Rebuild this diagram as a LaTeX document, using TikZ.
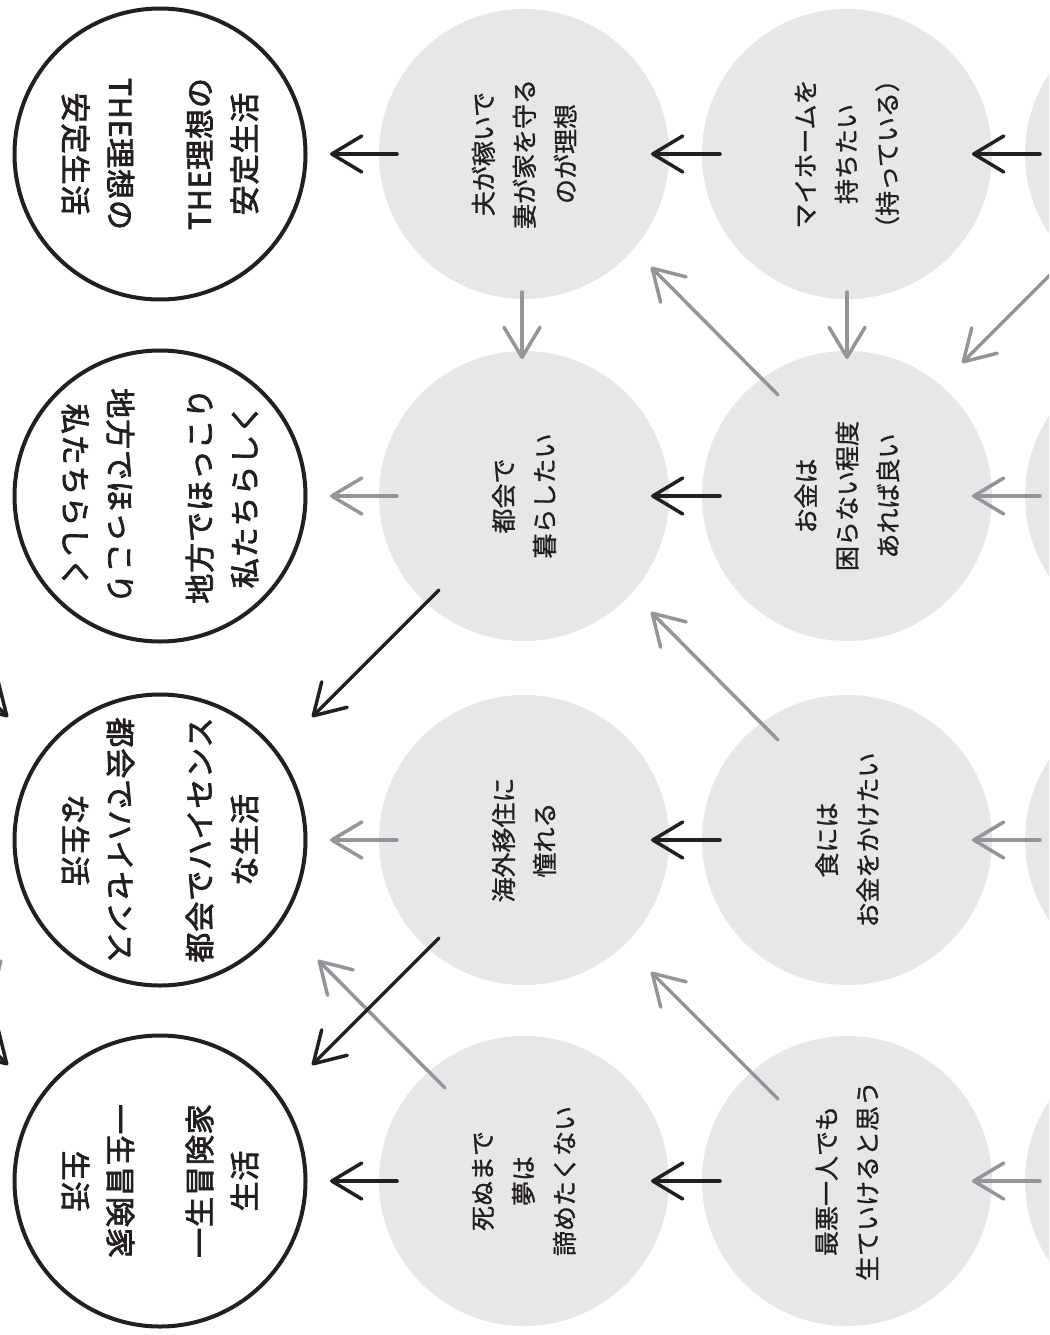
\documentclass[tikz,border=0pt]{standalone}
\usepackage{fontspec}
\newfontfamily\jp[FakeBold=1.0]{Noto Sans CJK JP}
\newfontfamily\jpb[FakeBold=2.5,LetterSpace=3]{Noto Sans CJK JP}
\usetikzlibrary{arrows.meta,calc}
\definecolor{ink}{HTML}{231F20}
\definecolor{circ}{HTML}{E6E7E8}
\definecolor{agray}{HTML}{939598}
\tikzset{
  wcirc/.style={circle, draw=ink, line width=4pt, fill=white, minimum size=291pt, inner sep=0pt, outer sep=0pt},
  gcirc/.style={circle, fill=circ, minimum size=290pt, inner sep=0pt, outer sep=0pt},
  wtext/.style={align=center, text=ink, inner sep=0pt, font=\jpb\fontsize{30pt}{45pt}\selectfont},
  gtext/.style={align=center, text=ink, inner sep=0pt, font=\jp\fontsize{25pt}{41pt}\selectfont},
  barb/.style={line width=3.5pt, line cap=round, -{Straight Barb[length=30pt,width=36pt,round]}},
  blk/.style={barb, draw=ink},
  gry/.style={barb, draw=agray},
}
\begin{document}
\begin{tikzpicture}[x=1pt,y=-1pt]
\useasboundingbox (0,0) rectangle (1049,1335);
\clip (0,0) rectangle (1049,1335);
\fill[white] (0,0) rectangle (1049,1335);
% mirrored ghost sources (off canvas)
\coordinate (M12) at (-204,496);
\coordinate (M13) at (-204,840);
\coordinate (M14) at (-204,1181);
% white circles
\node[wcirc] (W1) at (160,154) {};
\node[wcirc] (W2) at (160,496) {};
\node[wcirc] (W3) at (160,840) {};
\node[wcirc] (W4) at (160,1181) {};
% gray circles
\foreach \c/\x in {1/524,2/847,3/1170}{
  \node[gcirc] (G\c1) at (\x,154) {};
  \node[gcirc] (G\c2) at (\x,496) {};
  \node[gcirc] (G\c3) at (\x,840) {};
  \node[gcirc] (G\c4) at (\x,1181) {};
}
% white circle texts (both orientations)
\node[wtext, rotate=90] (W1a) at ($(W1)+(62,0)$) {THE理想の\\安定生活};
\node[wtext, rotate=-90] (W1b) at ($(W1)+(-62,0)$) {THE理想の\\安定生活};
\node[wtext, rotate=90] (W2a) at ($(W2)+(62,0)$) {地方でほっこり\\私たちらしく};
\node[wtext, rotate=-90] (W2b) at ($(W2)+(-62,0)$) {地方でほっこり\\私たちらしく};
\node[wtext, rotate=90] (W3a) at ($(W3)+(62,0)$) {都会でハイセンス\\な生活};
\node[wtext, rotate=-90] (W3b) at ($(W3)+(-62,0)$) {都会でハイセンス\\な生活};
\node[wtext, rotate=90] (W4a) at ($(W4)+(62,0)$) {一生冒険家\\生活};
\node[wtext, rotate=-90] (W4b) at ($(W4)+(-62,0)$) {一生冒険家\\生活};
% gray circle texts
\node[gtext, rotate=90] (T11) at (G11) {夫が稼いで\\妻が家を守る\\のが理想};
\node[gtext, rotate=90] (T12) at (G12) {都会で\\暮らしたい};
\node[gtext, rotate=90] (T13) at (G13) {海外移住に\\憧れる};
\node[gtext, rotate=90] (T14) at (G14) {死ぬまで\\夢は\\諦めたくない};
\node[gtext, rotate=90] (T21) at (G21) {マイホームを\\持ちたい\\（持っている）};
\node[gtext, rotate=90] (T22) at (G22) {お金は\\困らない程度\\あれば良い};
\node[gtext, rotate=90] (T23) at (G23) {食には\\お金をかけたい};
\node[gtext, rotate=90] (T24) at (G24) {最悪一人でも\\生ていけると思う};
% horizontal arrows: column 1 -> white
\draw[blk] ($(G11)+(-127,0)$) -- ($(W1)+(170,0)$);
\draw[gry] ($(G12)+(-127,0)$) -- ($(W2)+(170,0)$);
\draw[gry] ($(G13)+(-127,0)$) -- ($(W3)+(170,0)$);
\draw[blk] ($(G14)+(-127,0)$) -- ($(W4)+(170,0)$);
% column 2 -> column 1
\draw[blk] ($(G21)+(-127,0)$) -- ($(G11)+(127,0)$);
\draw[blk] ($(G22)+(-127,0)$) -- ($(G12)+(127,0)$);
\draw[blk] ($(G23)+(-127,0)$) -- ($(G13)+(127,0)$);
\draw[blk] ($(G24)+(-127,0)$) -- ($(G14)+(127,0)$);
% column 3 -> column 2
\draw[blk] ($(G31)+(-130,0)$) -- ($(G21)+(125,0)$);
\draw[gry] ($(G32)+(-130,0)$) -- ($(G22)+(125,0)$);
\draw[gry] ($(G33)+(-130,0)$) -- ($(G23)+(125,0)$);
\draw[gry] ($(G34)+(-130,0)$) -- ($(G24)+(125,0)$);
% vertical arrows
\draw[gry] ($(G11)+(-2,138)$) -- ($(G12)+(-2,-137)$);
\draw[gry] ($(G21)+(0,138)$) -- ($(G22)+(0,-137)$);
% diagonal arrows
\draw[gry] ($(G22)+(-69,-101)$) -- ($(G11)+(127,113)$);
\draw[gry] ($(G23)+(-69,-100)$) -- ($(G12)+(127,116)$);
\draw[gry] ($(G24)+(-69,-82)$) -- ($(G13)+(127,132)$);
\draw[gry] ($(G14)+(-79,-93)$) -- ($(W3)+(158,120)$);
\draw[gry] ($(G31)+(-60,61)$) -- ($(G22)+(115,-133)$);
\draw[gry] ($(M14)+(79,-93)$) -- ($(W3)+(-158,120)$);
\draw[blk] ($(G12)+(-85,94)$) -- ($(W3)+(152,-123)$);
\draw[blk] ($(G13)+(-85,98)$) -- ($(W4)+(152,-116)$);
\draw[blk] ($(M12)+(85,94)$) -- ($(W3)+(-152,-123)$);
\draw[blk] ($(M13)+(85,98)$) -- ($(W4)+(-152,-116)$);
\end{tikzpicture}
\end{document}
